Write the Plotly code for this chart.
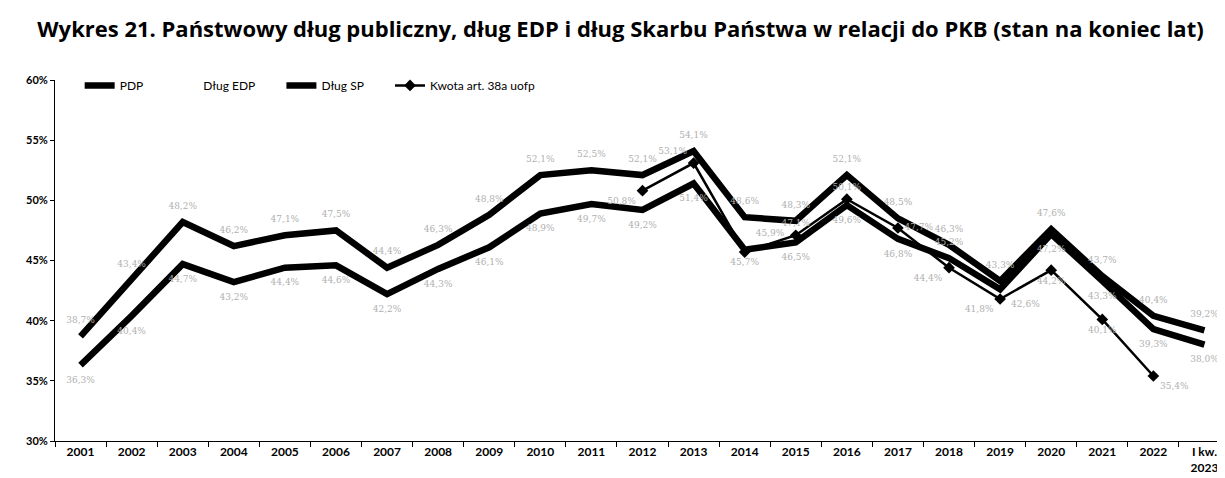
import plotly.graph_objects as go

categories = [str(y) for y in range(2001, 2023)] + ["I kw.<br>2023"]

pdp = [38.7, 43.4, 48.2, 46.2, 47.1, 47.5, 44.4, 46.3, 48.8, 52.1, 52.5, 52.1,
       54.1, 48.6, 48.3, 52.1, 48.5, 46.3, 43.3, 47.6, 43.7, 40.4, 39.2]
dlug_sp = [36.3, 40.4, 44.7, 43.2, 44.4, 44.6, 42.2, 44.3, 46.1, 48.9, 49.7, 49.2,
           51.4, 45.9, 46.5, 49.6, 46.8, 45.2, 42.6, 47.2, 43.3, 39.3, 38.0]
dlug_edp = [None] * len(categories)
kwota = [None] * 11 + [50.8, 53.1, 45.7, 47.1, 50.1, 47.7, 44.4, 41.8, 44.2, 40.1, 35.4, None]

def fmt(vals):
    return ["" if v is None else f"{v:.1f}".replace(".", ",") + "%" for v in vals]

label_font = dict(family="DejaVu Serif", size=9, color="#b0b0b0")
ghost = dict(size=16, color="rgba(0,0,0,0)", line=dict(width=0))
pad = "\u00a0"

fig = go.Figure()
fig.add_trace(go.Scatter(
    x=categories, y=pdp, name="PDP" + pad * 5, mode="lines+markers+text",
    line=dict(color="black", width=6.5), marker=ghost,
    text=fmt(pdp), textposition="top center", textfont=label_font,
))
fig.add_trace(go.Scatter(
    x=categories, y=dlug_edp, name="Dług EDP" + pad * 7, mode="lines",
    line=dict(color="white", width=6),
))
sp_pos = ["bottom center"] * len(categories)
for i, p in {13: "top right", 17: "top center", 18: "bottom right"}.items():
    sp_pos[i] = p
fig.add_trace(go.Scatter(
    x=categories, y=dlug_sp, name="Dług SP" + pad * 7, mode="lines+markers+text",
    line=dict(color="black", width=6.5), marker=ghost,
    text=fmt(dlug_sp), textposition=sp_pos, textfont=label_font,
))
kw_pos = ["bottom center"] * len(categories)
for i, p in {11: "bottom left", 12: "top left", 13: "bottom center", 14: "top center",
             15: "top center", 16: "middle right", 17: "bottom left",
             18: "bottom left", 19: "bottom center", 20: "bottom center",
             21: "bottom right"}.items():
    kw_pos[i] = p
fig.add_trace(go.Scatter(
    x=categories, y=kwota, name="Kwota art. 38a uofp", mode="lines+markers+text",
    line=dict(color="black", width=2.5),
    marker=dict(symbol="diamond", size=9, color="black"),
    text=fmt(kwota), textposition=kw_pos, textfont=label_font,
))

fig.update_layout(
    width=1225, height=478,
    paper_bgcolor="white", plot_bgcolor="white",
    margin=dict(l=47, r=3, t=72, b=45),
    title=dict(
        text="Wykres 21. Państwowy dług publiczny, dług EDP i dług Skarbu Państwa w relacji do PKB (stan na koniec lat)",
        font=dict(family="Open Sans", size=22, color="black", weight="bold"),
        x=0.5, xanchor="center", y=0.955, yanchor="middle",
    ),
    showlegend=True,
    legend=dict(
        orientation="h", x=0.021, y=0.985, xanchor="left", yanchor="middle",
        font=dict(family="Lato", size=12, color="black"),
        bgcolor="rgba(0,0,0,0)", entrywidth=0, itemwidth=30,
    ),
    hovermode=False,
)
fig.update_xaxes(
    type="category", range=[-0.5, len(categories) - 0.5],
    showline=True, linecolor="black", linewidth=1,
    ticks="outside", tickson="boundaries", ticklen=5, tickcolor="black",
    showgrid=False, zeroline=False,
    tickfont=dict(family="Lato", size=12, color="black", weight="bold"),
)
fig.update_yaxes(
    range=[30, 60], dtick=5, ticksuffix="%",
    showline=True, linecolor="black", linewidth=1,
    ticks="outside", ticklen=4, tickcolor="black",
    showgrid=False, zeroline=False,
    tickfont=dict(family="Lato", size=11, color="black", weight="bold"),
)

fig.write_html("out.html")
